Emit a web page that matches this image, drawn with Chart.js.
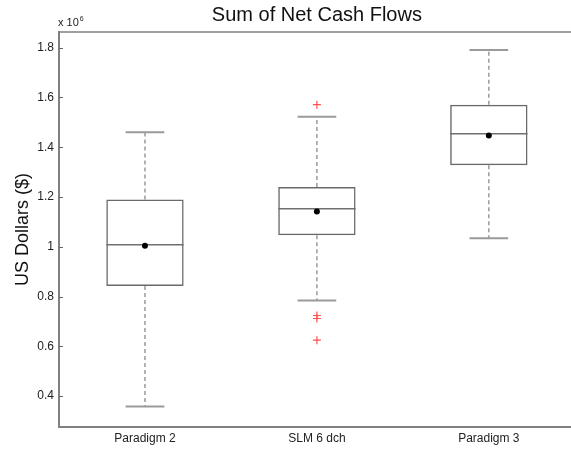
<!DOCTYPE html>
<html>
<head>
<meta charset="utf-8">
<title>Sum of Net Cash Flows</title>
<script src="https://cdn.jsdelivr.net/npm/chart.js@4/dist/chart.umd.min.js"></script>
<style>
  html, body { margin: 0; padding: 0; background: #fff; overflow: hidden; }
  #wrap { width: 580px; height: 450px; }
</style>
</head>
<body>
<div id="wrap"><canvas id="c" width="580" height="450"></canvas></div>
<script>
// Box plot summary per scenario, in units of 10^6 US dollars
const groups      = ['Paradigm 2', 'SLM 6 dch', 'Paradigm 3'];
const whiskerLow  = [0.358, 0.784, 1.034];
const q1          = [0.843, 1.046, 1.328];
const median      = [1.008, 1.153, 1.454];
const q3          = [1.190, 1.240, 1.571];
const whiskerHigh = [1.460, 1.523, 1.791];
const means       = [1.004, 1.142, 1.447];
const outliers    = [[], [1.571, 0.724, 0.712, 0.625], []];

const yTicks = [0.4, 0.6, 0.8, 1.0, 1.2, 1.4, 1.6, 1.8];
const yRange = [0.276, 1.863];
const chartTitle = 'Sum of Net Cash Flows';
const yTitle = 'US Dollars ($)';

const FONT = "'Liberation Sans', Arial, Helvetica, sans-serif";
const positions = groups.map((g, i) => i + 1);
const BOX_HALF = 0.225;   // half box width, x units
const CAP_HALF = 0.1125;  // half whisker-cap width, x units

// Turn a list of [[x0,y0],[x1,y1]] segments into one line series with gaps
function segmentSeries(segs) {
  const out = [];
  segs.forEach(([a, b], k) => {
    if (k) out.push({ x: a[0], y: null });
    out.push({ x: a[0], y: a[1] }, { x: b[0], y: b[1] });
  });
  return out;
}

const boxData = positions.map((p, i) => ({ x: p, y: [q1[i], q3[i]] }));
const whiskerData = segmentSeries(positions.flatMap((p, i) => [
  [[p, q3[i]], [p, whiskerHigh[i]]],
  [[p, q1[i]], [p, whiskerLow[i]]]
]));
const capData = segmentSeries(positions.flatMap((p, i) => [
  [[p - CAP_HALF, whiskerHigh[i]], [p + CAP_HALF, whiskerHigh[i]]],
  [[p - CAP_HALF, whiskerLow[i]], [p + CAP_HALF, whiskerLow[i]]]
]));
const medianData = segmentSeries(positions.map((p, i) =>
  [[p - BOX_HALF, median[i]], [p + BOX_HALF, median[i]]]
));
const meanData = positions.map((p, i) => ({ x: p, y: means[i] }));
const outlierData = outliers.flatMap((arr, i) => arr.map(v => ({ x: positions[i], y: v })));

// Axes frame: top border, inward tick marks and the exponent label
const framePlugin = {
  id: 'frame',
  afterDraw(chart) {
    const { ctx, chartArea: a, scales } = chart;
    ctx.save();
    ctx.strokeStyle = '#808080';
    ctx.lineWidth = 1.5;
    ctx.beginPath();
    ctx.moveTo(a.left, a.top);
    ctx.lineTo(a.right, a.top);
    ctx.stroke();
    ctx.lineWidth = 1;
    ctx.strokeStyle = '#666';
    ctx.beginPath();
    yTicks.forEach(v => {
      const y = Math.round(scales.y.getPixelForValue(v)) + 0.5;
      ctx.moveTo(a.left, y);
      ctx.lineTo(a.left + 4, y);
    });
    ctx.stroke();
    ctx.fillStyle = '#222';
    ctx.textBaseline = 'alphabetic';
    ctx.textAlign = 'left';
    ctx.font = '11px ' + FONT;
    ctx.fillText('x 10', a.left - 1, a.top - 6);
    const w = ctx.measureText('x 10').width;
    ctx.font = '7px ' + FONT;
    ctx.fillText('6', a.left - 1 + w + 1, a.top - 11);
    ctx.restore();
  }
};

const lineBase = { type: 'line', pointRadius: 0, pointHoverRadius: 0, fill: false, tension: 0, spanGaps: false };

new Chart(document.getElementById('c'), {
  type: 'bar',
  data: {
    datasets: [
      { type: 'bar', data: boxData, backgroundColor: 'rgba(0,0,0,0)', borderColor: '#6a6a6a',
        borderWidth: 1.5, borderSkipped: false, barPercentage: 0.45, categoryPercentage: 1, order: 5 },
      { ...lineBase, data: whiskerData, borderColor: '#9a9a9a', borderWidth: 1.5, borderDash: [4, 3], order: 4 },
      { ...lineBase, data: capData, borderColor: '#9a9a9a', borderWidth: 2, order: 3 },
      { ...lineBase, data: medianData, borderColor: '#707070', borderWidth: 1.5, order: 2 },
      { type: 'scatter', data: meanData, pointStyle: 'circle', pointRadius: 3, backgroundColor: '#000',
        borderColor: '#000', borderWidth: 0, order: 1 },
      { type: 'scatter', data: outlierData, pointStyle: 'cross', pointRadius: 4,
        borderColor: 'rgb(255,80,80)', borderWidth: 1.2, order: 0 }
    ]
  },
  options: {
    responsive: false,
    animation: false,
    devicePixelRatio: 1,
    layout: { padding: { left: 0, right: 1, top: 0, bottom: 0 } },
    plugins: {
      legend: { display: false },
      tooltip: { enabled: false },
      title: {
        display: true, text: chartTitle, fullSize: false, color: '#111',
        font: { family: FONT, size: 20, weight: 'normal' },
        padding: { top: 3, bottom: 5 }
      }
    },
    scales: {
      x: {
        type: 'linear', min: 0.5, max: 3.5, offset: false,
        afterBuildTicks: s => { s.ticks = positions.map(v => ({ value: v })); },
        afterFit: s => { s.height = 23; },
        grid: { display: false, drawTicks: false, tickLength: 0 },
        border: { display: true, color: '#808080', width: 2 },
        ticks: {
          autoSkip: false, maxRotation: 0, padding: 4, color: '#222',
          font: { family: FONT, size: 12 },
          callback: v => groups[v - 1] ?? ''
        }
      },
      y: {
        type: 'linear', min: yRange[0], max: yRange[1],
        afterBuildTicks: s => { s.ticks = yTicks.map(v => ({ value: v })); },
        afterFit: s => { s.width = 59; },
        grid: { display: false, drawTicks: false, tickLength: 0 },
        border: { display: true, color: '#808080', width: 2 },
        ticks: {
          padding: 5, color: '#222',
          font: { family: FONT, size: 12 },
          callback: v => String(+v.toFixed(1))
        },
        title: {
          display: true, text: yTitle, color: '#111',
          font: { family: FONT, size: 18 },
          padding: { top: 12, bottom: 0 }
        }
      }
    }
  },
  plugins: [framePlugin]
});
</script>
</body>
</html>
